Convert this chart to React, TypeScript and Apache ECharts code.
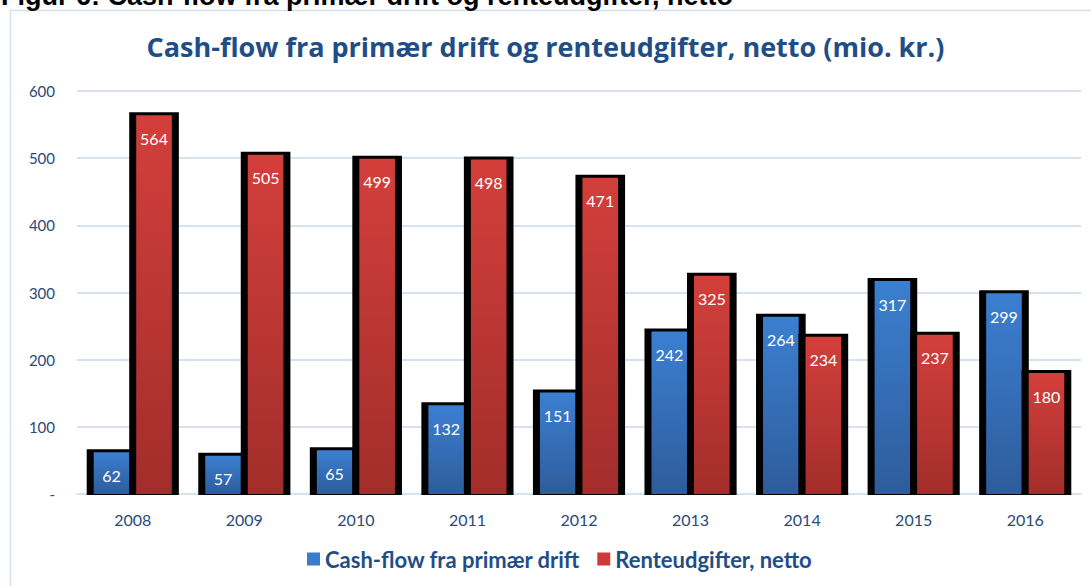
import React, { useEffect, useRef } from "react";
import * as echarts from "echarts";

const years = ["2008", "2009", "2010", "2011", "2012", "2013", "2014", "2015", "2016"];
const cashFlow = [62, 57, 65, 132, 151, 242, 264, 317, 299];
const renteudgifter = [564, 505, 499, 498, 471, 325, 234, 237, 180];
const yTicks = [0, 100, 200, 300, 400, 500, 600];
const seriesNames = ["Cash-flow fra primær drift", "Renteudgifter, netto"];

const FONT = "Lato, 'Open Sans', sans-serif";
const BLUE = "#3A7BCB";
const RED = "#CC3B38";

function makeRender(side: number, top: string, bottom: string) {
  return (params: any, api: any) => {
    const idx = api.value(0);
    const val = api.value(1);
    const base = api.coord([idx, 0]);
    const topPt = api.coord([idx, val]);
    const bandW = api.size([1, 0])[0];
    const c = base[0];
    const half = bandW * 0.413;
    const inner = bandW * 0.032;
    const border = 7;
    let bx0: number, bx1: number;
    if (side < 0) {
      bx0 = c - half;
      bx1 = c + inner;
    } else {
      bx0 = c - inner;
      bx1 = c + half;
    }
    const fx0 = bx0 + border;
    const fx1 = bx1 - border;
    const h = base[1] - topPt[1];
    return {
      type: "group",
      children: [
        {
          type: "rect",
          shape: { x: bx0, y: topPt[1] - 3, width: bx1 - bx0, height: h + 4 },
          style: { fill: "#000" },
        },
        {
          type: "rect",
          shape: { x: fx0, y: topPt[1], width: fx1 - fx0, height: h },
          style: {
            fill: new echarts.graphic.LinearGradient(0, 0, 0, 1, [
              { offset: 0, color: top },
              { offset: 1, color: bottom },
            ]),
          },
        },
        {
          type: "text",
          style: {
            text: String(val),
            x: (fx0 + fx1) / 2,
            y: topPt[1] + 23,
            fill: "#fff",
            font: `16px ${FONT}`,
            align: "center",
            verticalAlign: "middle",
          },
        },
      ],
    };
  };
}

export default function App() {
  const ref = useRef<HTMLDivElement>(null);
  useEffect(() => {
    if (!ref.current) return;
    const chart = echarts.init(ref.current, undefined, { renderer: "svg" });
    chart.setOption({
      animation: false,
      backgroundColor: "#fff",
      title: {
        text: "Cash-flow fra primær drift og renteudgifter, netto (mio. kr.)",
        left: "center",
        top: 28,
        textStyle: { color: "#1F4E87", fontSize: 27, fontWeight: "bold", fontFamily: "'Open Sans', sans-serif" },
      },
      graphic: [
        {
          type: "rect",
          shape: { x: 10.5, y: 10.5, width: 1100, height: 600 },
          style: { fill: "none", stroke: "#D3E0EF", lineWidth: 1.5 },
          z: -1,
        },
        {
          type: "text",
          style: {
            text: "Figur 6: Cash-flow fra primær drift og renteudgifter, netto",
            x: 1,
            y: 9,
            fill: "#000",
            font: "bold 27px 'Liberation Sans', Arial, sans-serif",
            verticalAlign: "bottom",
          },
        },
      ],
      legend: {
        data: seriesNames,
        bottom: 11,
        left: 302,
        icon: "rect",
        itemWidth: 13,
        itemHeight: 13,
        itemGap: 17,
        textStyle: { color: "#1F4E87", fontSize: 22, fontWeight: "bold", fontFamily: FONT },
      },
      grid: { left: 77, right: 10, top: 91, bottom: 92, containLabel: false },
      xAxis: {
        type: "category",
        data: years,
        axisLine: { lineStyle: { color: "#D6E2F1", width: 2 } },
        axisTick: { show: false },
        axisLabel: { color: "#2A4A78", fontSize: 16, fontFamily: FONT, margin: 17 },
      },
      yAxis: {
        type: "value",
        min: yTicks[0],
        max: yTicks[yTicks.length - 1],
        interval: 100,
        axisLine: { show: false },
        axisTick: { show: false },
        splitLine: { lineStyle: { color: "#D6E2F1", width: 2 } },
        axisLabel: {
          color: "#2A4A78",
          fontSize: 15,
          fontFamily: FONT,
          margin: 22,
          formatter: (v: number) => (v === 0 ? "-" : String(v)),
        },
      },
      series: [
        {
          name: seriesNames[0],
          type: "custom",
          itemStyle: { color: BLUE },
          renderItem: makeRender(-1, "#3B7FD1", "#2E5C9B"),
          encode: { x: 0, y: 1 },
          data: cashFlow.map((v, i) => [i, v]),
        },
        {
          name: seriesNames[1],
          type: "custom",
          itemStyle: { color: RED },
          renderItem: makeRender(1, "#D33F3B", "#A22D2A"),
          encode: { x: 0, y: 1 },
          data: renteudgifter.map((v, i) => [i, v]),
        },
      ],
    });
    return () => chart.dispose();
  }, []);
  return <div ref={ref} style={{ position: "fixed", left: 0, top: 0, width: 1091, height: 586 }} />;
}
